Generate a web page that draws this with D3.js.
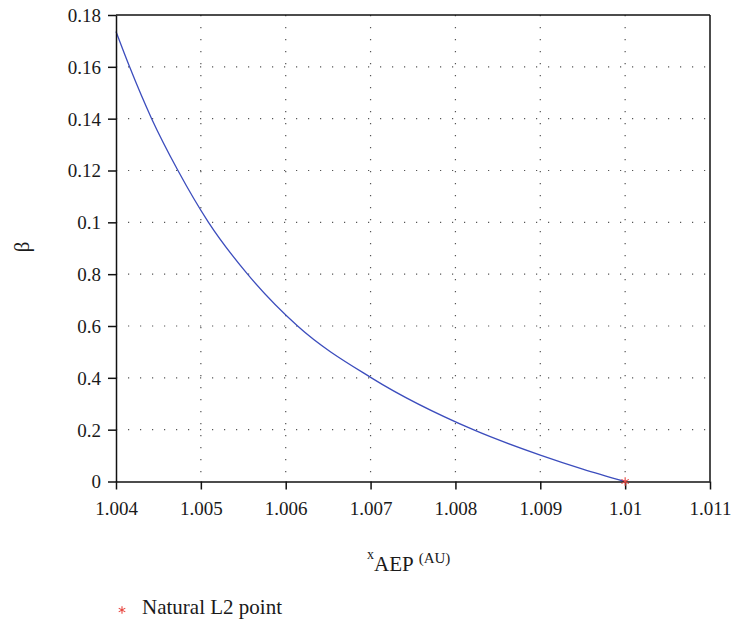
<!DOCTYPE html>
<html>
<head>
    <meta charset="utf-8">
    <title>beta vs x_AEP</title>
    <style>
        body {
            margin: 0;
            background: #fff;
        }

        .grid line {
            stroke: #555;
            stroke-width: 1.2;
            stroke-dasharray: 1.2, 10.8;
        }
    </style>
    <script src="https://d3js.org/d3.v7.min.js"></script>
</head>
<body>
<div id="chart"></div>
<script>
    // x ticks and y ticks (labels kept as printed in the figure)
    const xTicks = [1.004, 1.005, 1.006, 1.007, 1.008, 1.009, 1.01, 1.011];
    const xTickLabels = ["1.004", "1.005", "1.006", "1.007", "1.008", "1.009", "1.01", "1.011"];
    const yTicks = [0, 0.02, 0.04, 0.06, 0.08, 0.10, 0.12, 0.14, 0.16, 0.18];
    const yTickLabels = ["0", "0.2", "0.4", "0.6", "0.8", "0.1", "0.12", "0.14", "0.16", "0.18"];

    // curve
    const xAEP = [1.004, 1.00416, 1.00442, 1.00473, 1.00509, 1.00555, 1.00614, 1.00701, 1.00821, 1.009, 1.0095, 1.010];
    const beta = [0.1736, 0.16, 0.14, 0.12, 0.10, 0.08, 0.06, 0.04, 0.02, 0.0102, 0.0048, 0];

    // natural L2 point
    const l2Point = {x: 1.010, y: 0};

    const FONT = "Liberation Serif, Times New Roman, serif";
    const W = 732, H = 624;
    const margin = {left: 116, top: 15, right: 22, bottom: 142.5};
    const iw = W - margin.left - margin.right;
    const ih = H - margin.top - margin.bottom;

    const svg = d3.select("#chart").append("svg")
        .attr("width", W)
        .attr("height", H)
        .style("font-family", FONT);

    const x = d3.scaleLinear().domain([1.004, 1.011]).range([0, iw]);
    const y = d3.scaleLinear().domain([0, 0.18]).range([ih, 0]);

    const g = svg.append("g")
        .attr("transform", `translate(${margin.left},${margin.top})`);

    // dotted grid
    const grid = g.append("g").attr("class", "grid");
    grid.selectAll("line.v")
        .data(xTicks.slice(1, -1))
        .join("line")
        .attr("class", "v")
        .attr("x1", d => x(d)).attr("x2", d => x(d))
        .attr("y1", 0).attr("y2", ih);
    grid.selectAll("line.h")
        .data(yTicks.slice(1, -1))
        .join("line")
        .attr("class", "h")
        .attr("x1", 0).attr("x2", iw)
        .attr("y1", d => y(d)).attr("y2", d => y(d));

    // curve
    const line = d3.line()
        .x((d, i) => x(xAEP[i]))
        .y(d => y(d))
        .curve(d3.curveMonotoneX);

    g.append("path")
        .datum(beta)
        .attr("d", line)
        .attr("fill", "none")
        .attr("stroke", "#3c4dbd")
        .attr("stroke-width", 1.3);

    // frame (top + right)
    g.append("line")
        .attr("x1", 0).attr("x2", iw).attr("y1", 0).attr("y2", 0)
        .attr("stroke", "#111").attr("stroke-width", 1.5);
    g.append("line")
        .attr("x1", iw).attr("x2", iw).attr("y1", 0).attr("y2", ih)
        .attr("stroke", "#111").attr("stroke-width", 1.5);

    // axes
    const xAxis = g.append("g")
        .attr("transform", `translate(0,${ih})`)
        .call(d3.axisBottom(x)
            .tickValues(xTicks)
            .tickFormat((d, i) => xTickLabels[i])
            .tickSizeInner(8)
            .tickSizeOuter(0)
            .tickPadding(7));

    const yAxis = g.append("g")
        .call(d3.axisLeft(y)
            .tickValues(yTicks)
            .tickFormat((d, i) => yTickLabels[i])
            .tickSizeInner(8)
            .tickSizeOuter(0)
            .tickPadding(7));

    [xAxis, yAxis].forEach(a => {
        a.attr("font-family", null).attr("font-size", null);
        a.select(".domain").attr("stroke", "#111").attr("stroke-width", 1.5);
        a.selectAll(".tick line").attr("stroke", "#111").attr("stroke-width", 1.5);
        a.selectAll(".tick text")
            .style("font-family", FONT)
            .style("font-size", "19px")
            .attr("fill", "#1a1a1a");
    });
    yAxis.selectAll(".tick text").attr("dy", "0.34em");
    xAxis.selectAll(".tick text").attr("dy", "0.95em");

    // red asterisk marker
    const star = d3.symbol().type(d3.symbolAsterisk).size(50);
    g.append("path")
        .attr("d", star())
        .attr("transform", `translate(${x(l2Point.x)},${y(l2Point.y)})`)
        .attr("fill", "none")
        .attr("stroke", "#e8463f")
        .attr("stroke-width", 1.1);

    // y label
    svg.append("text")
        .attr("transform", "translate(29,247) rotate(-90)")
        .attr("text-anchor", "middle")
        .style("font-size", "21px")
        .attr("fill", "#1a1a1a")
        .text("β");

    // x label  x_AEP (AU)
    const xl = svg.append("text")
        .attr("x", 367)
        .attr("y", 571)
        .attr("fill", "#1a1a1a")
        .style("font-size", "21px");
    xl.append("tspan").text("x")
        .style("font-size", "14px")
        .attr("dy", "-12");
    xl.append("tspan").text("AEP")
        .attr("dx", "0")
        .attr("dy", "12");
    xl.append("tspan").text("(AU)")
        .style("font-size", "15px")
        .attr("dx", "5")
        .attr("dy", "-8");

    // legend
    svg.append("path")
        .attr("d", d3.symbol().type(d3.symbolAsterisk).size(40)())
        .attr("transform", "translate(122,610)")
        .attr("fill", "none")
        .attr("stroke", "#e8463f")
        .attr("stroke-width", 1.1);
    svg.append("text")
        .attr("x", 142)
        .attr("y", 614)
        .attr("fill", "#1a1a1a")
        .style("font-size", "21px")
        .text("Natural L2 point");
</script>
</body>
</html>
